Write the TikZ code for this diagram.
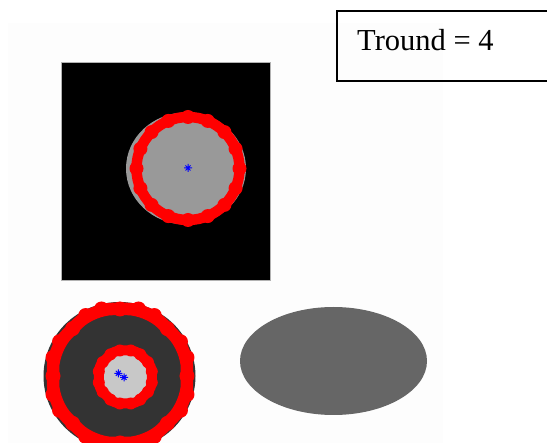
\documentclass[tikz,border=0pt]{standalone}
\usepackage{fontspec}
\setmainfont{Liberation Serif}
\usetikzlibrary{calc}
\definecolor{discgray}{HTML}{999999}
\definecolor{darkdisc}{HTML}{333333}
\definecolor{lightdisc}{HTML}{C8C8C8}
\definecolor{ellgray}{HTML}{666666}
\definecolor{ringred}{HTML}{FF0000}
\definecolor{markblue}{HTML}{0000FF}
\definecolor{bgtint}{HTML}{FDFDFD}
\tikzset{
  ringdot/.style={fill=ringred, draw=none},
  starmark/.style={draw=markblue, line width=1pt},
  labelbox/.style={draw=black, line width=2pt},
  labeltext/.style={font=\fontsize{30.5}{34}\selectfont, inner sep=0pt, anchor=base west}
}
\newcommand{\mystar}[2]{%
  \draw[starmark] (#1-4,#2) -- (#1+4,#2) (#1,#2-4) -- (#1,#2+4)
    (#1-2.5,#2-2.5) -- (#1+2.5,#2+2.5) (#1-2.5,#2+2.5) -- (#1+2.5,#2-2.5);}
% octagonal ring: cx, cy, apothem, dot radius, line width, corner radius, fractions
\newcommand{\octring}[7]{%
  \pgfmathsetmacro{\octR}{#3/cos(22.5)}
  \draw[ringred, line width=#5, rounded corners=#6, shift={(#1,#2)}]
    (22.5:\octR) -- (67.5:\octR) -- (112.5:\octR) -- (157.5:\octR) --
    (202.5:\octR) -- (247.5:\octR) -- (292.5:\octR) -- (337.5:\octR) -- cycle;
  \foreach \k in {0,...,7} {
    \foreach \fr in {#7} {
      \pgfmathsetmacro{\px}{#1+\octR*((1-\fr)*cos(22.5+45*\k)+\fr*cos(67.5+45*\k))}
      \pgfmathsetmacro{\py}{#2+\octR*((1-\fr)*sin(22.5+45*\k)+\fr*sin(67.5+45*\k))}
      \fill[ringdot] (\px,\py) circle (#4);
    }
  }
}
\begin{document}
\begin{tikzpicture}[x=1pt,y=-1pt]
\useasboundingbox (0,0) rectangle (547,443);
\fill[white] (0,0) rectangle (547,443);
\fill[bgtint] (8,23) rectangle (443,443);
% label box
\draw[labelbox] (337,11) rectangle (560,81);
\node[labeltext] (tround) at (357,50.7) {Tround = 4};
% top image
\fill[black] (61,62) rectangle (270,280);
\draw[gray!60, line width=0.8pt] (61,62) rectangle (270,280);
\fill[discgray] (186,168.5) ellipse [x radius=60, y radius=56];
\draw[ringred, line width=10.5pt] (188,168.5) circle (51.5);
\foreach \a in {0,22.5,...,337.5} {
  \fill[ringdot] ($(188,168.5)+(\a:51.5)$) circle (7);
}
\mystar{188}{168}
% bottom-left image
\fill[darkdisc] (119.5,376) ellipse [x radius=76, y radius=74];
\octring{120}{376}{67}{7.5}{12.5pt}{20pt}{0.1667,0.5,0.8333}
\fill[lightdisc, rounded corners=4pt, shift={(125.3,377)}]
  (22.5:28.1) -- (67.5:28.1) -- (112.5:28.1) -- (157.5:28.1) --
  (202.5:28.1) -- (247.5:28.1) -- (292.5:28.1) -- (337.5:28.1) -- cycle;
\octring{125.3}{377}{26.5}{6}{10pt}{6pt}{0.25,0.75}
\mystar{118.3}{373.3}
\mystar{124}{377.3}
% ellipse
\fill[ellgray] (333.5,361) ellipse [x radius=93.5, y radius=54];
\end{tikzpicture}
\end{document}
